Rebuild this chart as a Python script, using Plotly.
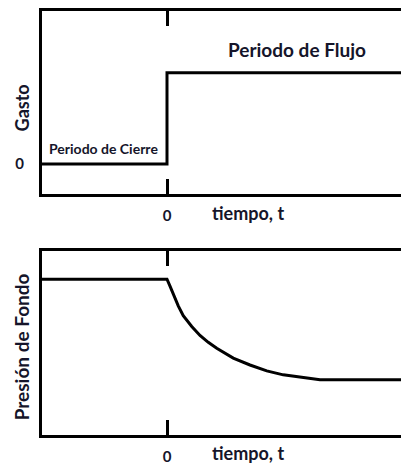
import plotly.graph_objects as go
from plotly.subplots import make_subplots

# top panel: flow rate step
t_gasto = [-5, 0, 0, 9.68]
gasto = [0, 0, 1, 1]

# bottom panel: bottomhole pressure
t_pres = [-5, 0, 0.12, 0.25, 0.45, 0.65, 0.99, 1.32, 1.65, 1.99, 2.65, 3.32,
          3.99, 4.65, 5.32, 6.12, 9.68]
presion = [1.58, 1.58, 1.51, 1.43, 1.31, 1.21, 1.10, 1.01, 0.94, 0.88, 0.78, 0.71,
           0.65, 0.61, 0.59, 0.56, 0.56]

x_ticks = [0]
x_ticktext = ["0"]
y_ticks = [0]
y_ticktext = ["0"]

FONT = "Lato"
TXT = "#15152a"

fig = make_subplots(rows=2, cols=1)

fig.add_trace(go.Scatter(x=t_gasto, y=gasto, mode="lines",
                         line=dict(color="black", width=3), hoverinfo="skip"),
              row=1, col=1)
fig.add_trace(go.Scatter(x=t_pres, y=presion, mode="lines",
                         line=dict(color="black", width=3), hoverinfo="skip"),
              row=2, col=1)

fig.update_xaxes(range=[-5, 9.68], showline=True, linecolor="black", linewidth=3,
                 mirror="ticks", ticks="inside", ticklen=15, tickwidth=3,
                 tickcolor="black", tickvals=x_ticks, ticktext=x_ticktext,
                 showgrid=False, zeroline=False, ticklabelstandoff=6,
                 tickfont=dict(family=FONT, size=15, color=TXT, weight="bold"))

fig.update_yaxes(showline=True, linecolor="black", linewidth=3, mirror=False,
                 showgrid=False, zeroline=False, ticks="")
fig.update_yaxes(range=[-0.333, 1.677], tickvals=y_ticks, ticktext=y_ticktext,
                 ticklabelstandoff=12,
                 tickfont=dict(family=FONT, size=15, color=TXT, weight="bold"),
                 row=1, col=1)
fig.update_yaxes(range=[0, 1.87], showticklabels=False, row=2, col=1)

# page body adds an 8px margin; top panel 8..194, bottom panel 251..438 on screen
fig.layout.yaxis.domain = [(430 - 186) / 430, 1]
fig.layout.yaxis2.domain = [0, 187 / 430]

def note(text, x, y, xref, yref, size, angle=0):
    fig.add_annotation(text=text, x=x, y=y, xref=xref, yref=yref, showarrow=False,
                       textangle=angle, xanchor="center", yanchor="middle",
                       font=dict(family=FONT, size=size, color=TXT, weight="bold"))

note("Periodo de Flujo", 5.2, 1.25, "x", "y", 19)
note("Periodo de Cierre", -2.56, 0.17, "x", "y", 14)
note("tiempo, t", 3.25, -0.10, "x", "y domain", 18)
note("Gasto", -0.054, 0.47, "x domain", "y domain", 18, -90)
note("tiempo, t", 3.25, -0.10, "x2", "y2 domain", 18)
note("Presión de Fondo", -0.055, 0.48, "x2 domain", "y2 domain", 19, -90)

fig.update_layout(width=401, height=457, showlegend=False,
                  margin=dict(l=34, r=0, t=0, b=27),
                  plot_bgcolor="white", paper_bgcolor="white")

fig.write_html("out.html")
